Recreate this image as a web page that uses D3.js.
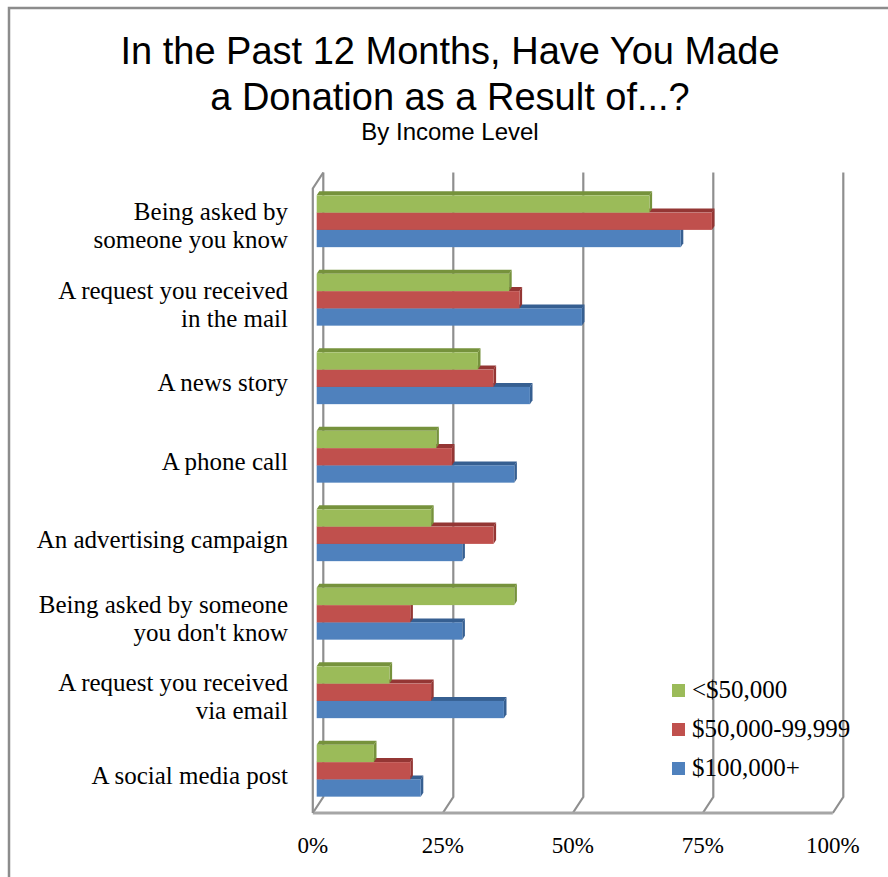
<!DOCTYPE html>
<html>
<head>
<meta charset="utf-8">
<script src="https://cdn.jsdelivr.net/npm/d3@7"></script>
<style>
  body { margin: 0; background: #fff; }
  svg { display: block; }
</style>
</head>
<body>
<div id="chart"></div>
<script>
// data (percent)
var categories = [
  ["Being asked by", "someone you know"],
  ["A request you received", "in the mail"],
  ["A news story"],
  ["A phone call"],
  ["An advertising campaign"],
  ["Being asked by someone", "you don't know"],
  ["A request you received", "via email"],
  ["A social media post"]
];
var seriesNames = ["<$50,000", "$50,000-99,999", "$100,000+"];
var under50k = [64, 37, 31, 23, 22, 38, 14, 11];
var mid50k   = [76, 39, 34, 26, 34, 18, 22, 18];
var over100k = [70, 51, 41, 38, 28, 28, 36, 20];
var tickValues = [0, 25, 50, 75, 100];
var tickLabels = ["0%", "25%", "50%", "75%", "100%"];

var colors = ["#9bbb59", "#c0504d", "#4f81bd"];
var sideColors = ["#76923c", "#943634", "#365f91"];

var width = 888, height = 877;
var svg = d3.select("#chart").append("svg")
  .attr("width", width).attr("height", height);

// frame
svg.append("path")
  .attr("d", "M9,877 L9,8 L888,8")
  .attr("fill", "none").attr("stroke", "#8c8c8c").attr("stroke-width", 2.5);

// title
svg.append("text").attr("x", 450).attr("y", 64).attr("text-anchor", "middle")
  .style("font-family", "Liberation Sans, Arial, sans-serif").style("font-size", "38px")
  .text("In the Past 12 Months, Have You Made");
svg.append("text").attr("x", 450).attr("y", 110).attr("text-anchor", "middle")
  .style("font-family", "Liberation Sans, Arial, sans-serif").style("font-size", "38px")
  .text("a Donation as a Result of...?");
svg.append("text").attr("x", 450).attr("y", 140).attr("text-anchor", "middle")
  .style("font-family", "Liberation Sans, Arial, sans-serif").style("font-size", "24px")
  .text("By Income Level");

// 3d geometry: back wall scale, depth offset to the front edge
var xBack = d3.scaleLinear().domain([0, 100]).range([323.3, 843.3]);
var depthX = -10.5, depthY = 16;
var wallTop = 172.5, wallBottom = 797;
var barShift = -6.6;  // bars sit between back wall and front edge
var x = d3.scaleLinear().domain([0, 100]).range([323.3 + barShift, 843.3 + barShift]);

var grid = svg.append("g").attr("fill", "none").attr("stroke", "#8f8f8f").attr("stroke-width", 2.2);
// back gridlines + floor diagonals
tickValues.forEach(function(t) {
  var bx = xBack(t);
  grid.append("path")
    .attr("d", "M" + bx + "," + wallTop + " L" + bx + "," + wallBottom +
      " L" + (bx + depthX) + "," + (wallBottom + depthY));
});
// floor front edge
grid.append("path")
  .attr("d", "M" + (xBack(0) + depthX) + "," + (wallBottom + depthY) +
    " L" + (xBack(100) + depthX) + "," + (wallBottom + depthY))
  .attr("stroke", "#a6a6a6").attr("stroke-width", 3);
// side wall front edge
grid.append("path")
  .attr("d", "M" + xBack(0) + "," + wallTop + " L" + (xBack(0) + depthX) + "," + (wallTop + depthY) +
    " L" + (xBack(0) + depthX) + "," + (wallBottom + depthY));

// bars
var y = d3.scaleBand().domain(d3.range(categories.length)).range([182, 810])
  .paddingInner(0.34).paddingOuter(0.17);
var ySub = d3.scaleBand().domain([0, 1, 2]).range([0, y.bandwidth()]);
var series = [under50k, mid50k, over100k];
var dx = 2.6, dy = -4;

var groups = svg.append("g").selectAll("g").data(categories).join("g")
  .attr("transform", function(d, i) { return "translate(0," + y(i) + ")"; });

groups.each(function(d, i) {
  var g = d3.select(this);
  // draw bottom bar first so upper bars cover its top face
  [2, 1, 0].forEach(function(s) {
    var x0 = x(0), x1 = x(series[s][i]);
    var y0 = ySub(s), h = ySub.bandwidth();
    g.append("path")
      .attr("d", "M" + x0 + "," + y0 + " L" + (x0 + dx) + "," + (y0 + dy) +
        " L" + (x1 + dx) + "," + (y0 + dy) + " L" + x1 + "," + y0 + "Z")
      .attr("fill", sideColors[s]);
    g.append("path")
      .attr("d", "M" + x1 + "," + y0 + " L" + (x1 + dx) + "," + (y0 + dy) +
        " L" + (x1 + dx) + "," + (y0 + h + dy) + " L" + x1 + "," + (y0 + h) + "Z")
      .attr("fill", sideColors[s]);
    g.append("rect")
      .attr("x", x0).attr("y", y0)
      .attr("width", x1 - x0).attr("height", h)
      .attr("fill", colors[s]);
  });
});

// category labels
var labels = svg.append("g")
  .style("font-family", "Liberation Serif, Times New Roman, serif").style("font-size", "25px")
  .attr("text-anchor", "end");
categories.forEach(function(lines, i) {
  var cy = y(i) + y.bandwidth() / 2 + 13;
  lines.forEach(function(line, j) {
    labels.append("text")
      .attr("x", 288)
      .attr("y", cy + (j - (lines.length - 1) / 2) * 28)
      .text(line);
  });
});

// x axis labels on the front edge
var xFront = d3.scaleLinear().domain([0, 100]).range([323.3 + depthX, 843.3 + depthX]);
svg.append("g").selectAll("text").data(tickValues).join("text")
  .attr("x", function(d) { return xFront(d); })
  .attr("y", 853)
  .attr("text-anchor", "middle")
  .style("font-family", "Liberation Serif, Times New Roman, serif").style("font-size", "23px")
  .text(function(d, i) { return tickLabels[i]; });

// legend
var legend = svg.append("g").attr("transform", "translate(672,684)");
seriesNames.forEach(function(name, i) {
  legend.append("rect").attr("x", 0).attr("y", i * 39).attr("width", 13).attr("height", 13)
    .attr("fill", colors[i]);
  legend.append("text").attr("x", 20).attr("y", i * 39 + 14)
    .style("font-family", "Liberation Serif, Times New Roman, serif").style("font-size", "25px")
    .text(name);
});
</script>
</body>
</html>
